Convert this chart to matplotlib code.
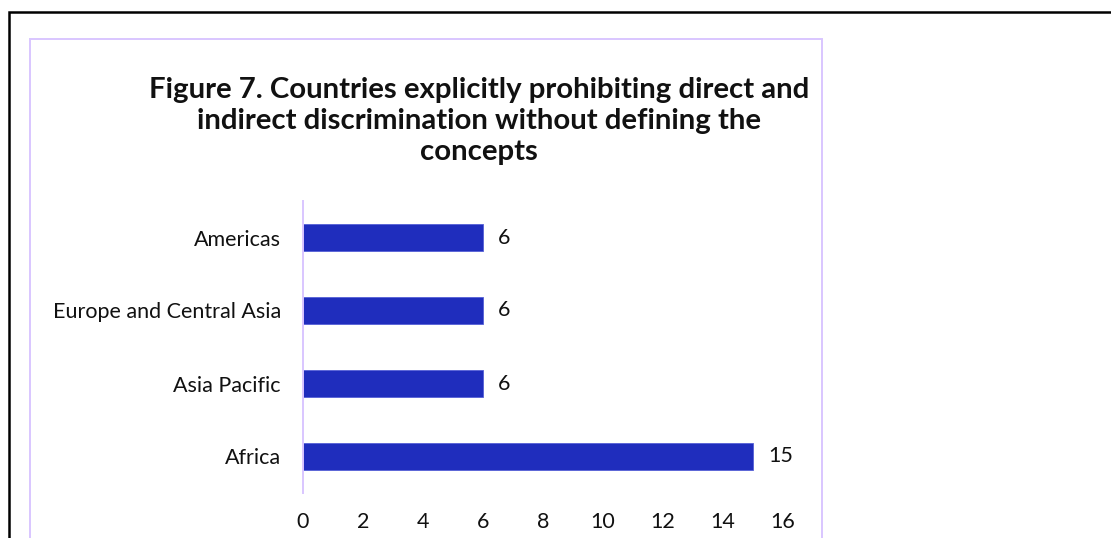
import matplotlib.pyplot as plt
from matplotlib.patches import Rectangle

# Data
regions = ["Africa", "Asia Pacific", "Europe and Central Asia", "Americas"]
counts = [15, 6, 6, 6]
x_ticks = [0, 2, 4, 6, 8, 10, 12, 14, 16]

title = ("Figure 7. Countries explicitly prohibiting direct and\n"
         "indirect discrimination without defining the\n"
         "concepts")

plt.rcParams['font.family'] = ['Lato', 'DejaVu Sans']

W, H = 1111, 538
fig = plt.figure(figsize=(W / 100, H / 100), dpi=100, facecolor="white")

# Outer page frame (top and left edges visible) and the chart area border
fig.patches.append(Rectangle((9 / W, -0.1), 1.2, (H - 12) / H + 0.1,
                             transform=fig.transFigure, fill=False,
                             edgecolor="black", linewidth=1.8))
fig.patches.append(Rectangle((30 / W, -0.1), (822 - 30) / W, (H - 39) / H + 0.1,
                             transform=fig.transFigure, fill=False,
                             edgecolor="#d9c6ff", linewidth=1.4))

ax = fig.add_axes([303 / W, (H - 493) / H, (783 - 303) / W, (493 - 201) / H])

bars = ax.barh(regions, counts, height=0.36, color="#1f2dbd",
               edgecolor="#5560d6", linewidth=0.6)

for y, v in enumerate(counts):
    ax.annotate(str(v), (v, y), xytext=(11, 0), textcoords="offset points",
                va="center", ha="left", fontsize=15.5, color="#111111")

ax.set_xlim(0, 16)
ax.set_ylim(-0.5, 3.5)
ax.set_xticks(x_ticks)
ax.tick_params(axis="both", length=0, labelsize=15.5, colors="#111111")
ax.tick_params(axis="x", pad=14)
ax.tick_params(axis="y", pad=16)

for side in ["top", "right", "bottom"]:
    ax.spines[side].set_visible(False)
ax.spines["left"].set_color("#d9c6ff")
ax.spines["left"].set_linewidth(1.4)

fig.text(479 / W, (H - 121) / H, title, ha="center", va="center",
         fontsize=21.2, fontweight="bold", linespacing=1.26, color="#111111")

fig.savefig("out.png", dpi=100, facecolor="white")
